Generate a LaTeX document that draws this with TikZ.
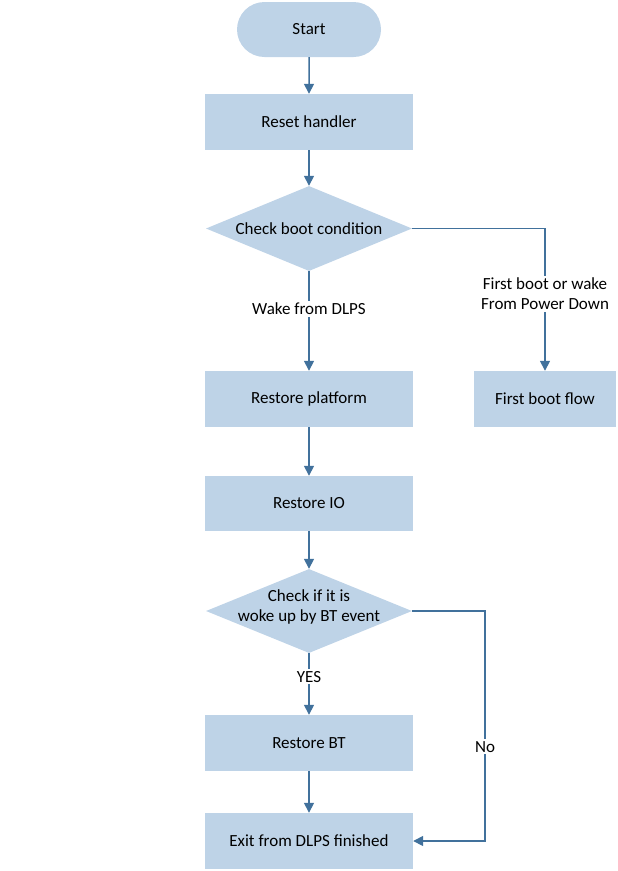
\documentclass[tikz,border=0pt]{standalone}
\usepackage{fontspec}
\setmainfont{Carlito}
\usetikzlibrary{shapes.geometric,shapes.misc,arrows.meta}
\definecolor{boxfill}{HTML}{BED3E7}
\definecolor{linecol}{HTML}{41719C}
\begin{document}
\begin{tikzpicture}[x=1pt,y=-1pt,
  every node/.style={font=\fontsize{17}{20}\selectfont, text=black},
  procbox/.style={fill=boxfill, draw=none, minimum width=208pt, minimum height=56pt, inner sep=0pt},
  decbox/.style={diamond, aspect=2.42, fill=boxfill, draw=none, minimum width=206pt, minimum height=85pt, inner sep=0pt, align=center},
  termbox/.style={rounded rectangle, fill=boxfill, draw=none, minimum width=144pt, minimum height=55pt, inner sep=0pt},
  conn/.style={draw=linecol, line width=1.5pt, -{Triangle[length=10pt,width=10pt]}, color=linecol},
  lbl/.style={fill=white, inner sep=2pt, align=center}]
\useasboundingbox (0,0) rectangle (618,871);
\node[termbox] (start) at (309,29.5) {Start};
\node[procbox] (reset) at (309,122) {Reset handler};
\node[decbox] (chk) at (309,228.5) {};
\node (chktext) at (chk.center) {Check boot condition};
\node[procbox] (plat) at (309,399) {Restore platform};
\node[procbox, minimum width=142pt] (first) at (545,399) {First boot flow};
\node[procbox, minimum height=55pt] (io) at (309,503.5) {Restore IO};
\node[decbox, minimum height=84pt] (bt) at (309,611) {};
\node[align=center, yshift=4pt] (bttext) at (bt.center) {Check if it is\\woke up by BT event};
\node[procbox] (rbt) at (309,743) {Restore BT};
\node[procbox] (exit) at (309,841) {Exit from DLPS finished};
\coordinate (c1) at (545,228.5);
\coordinate (c2) at (485,611);
\coordinate (c3) at (485,841);
\draw[conn] (start) -- (reset);
\draw[conn] (reset) -- (chk);
\draw[conn] (chk) -- node[lbl, pos=0.38] (l1) {Wake from DLPS} (plat);
\draw[conn] (chk.east) -- (c1) -- node[lbl, pos=0.46] (l2) {First boot or wake\\From Power Down} (first);
\draw[conn] (plat) -- (io);
\draw[conn] (io) -- (bt);
\draw[conn] (bt) -- node[lbl, pos=0.38] (l3) {YES} (rbt);
\draw[conn] (rbt) -- (exit);
\draw[conn] (bt.east) -- (c2) -- node[lbl, pos=0.59] (l4) {No} (c3) -- (exit.east);
\end{tikzpicture}
\end{document}
